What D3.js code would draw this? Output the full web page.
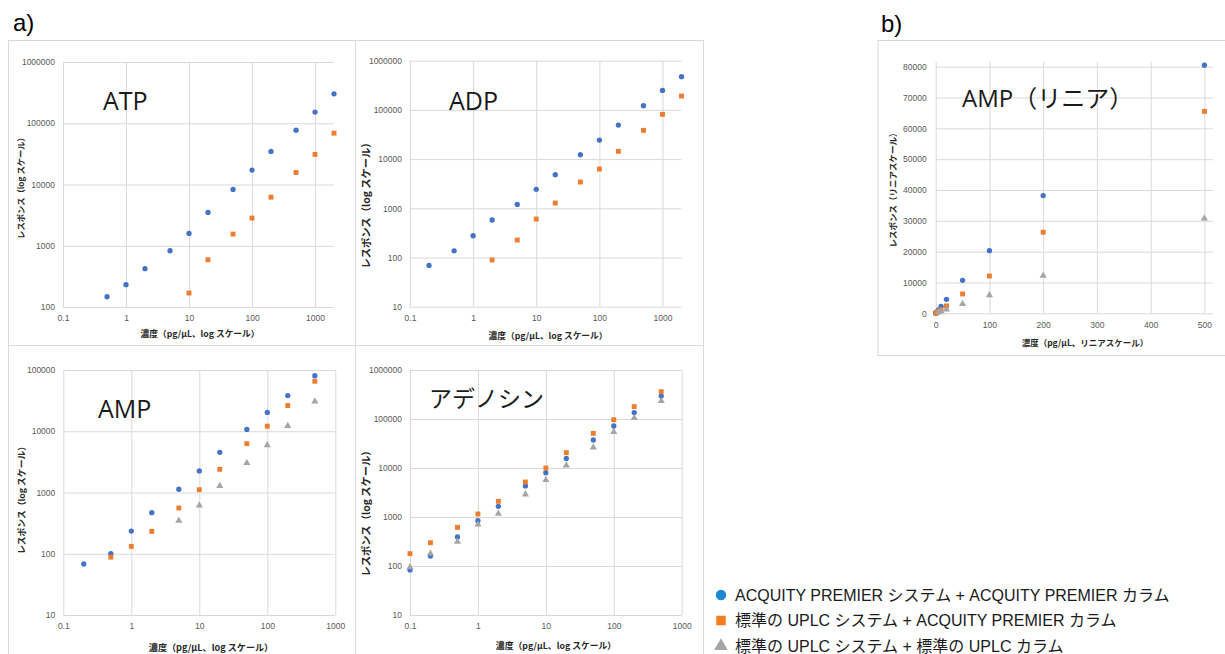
<!DOCTYPE html>
<html>
<head>
<meta charset="utf-8">
<script src="https://cdn.jsdelivr.net/npm/d3@7"></script>
<style>
  body { margin: 0; background: #fff; }
  .grid line { stroke: #d9d9d9; stroke-width: 1; }
  .grid text { fill: #595959; font-family: "Liberation Sans", Arial, sans-serif; font-size: 8.5px; }
  .axtitle { font-family: "Noto Sans CJK JP", sans-serif; font-weight: 700; fill: #262626; }
  .ptitle { font-family: "Open Sans", "Noto Sans CJK JP", sans-serif; fill: #1a1a1a; }
</style>
</head>
<body>
<div id="chart"></div>
<script>
// concentrations (pg/uL) and responses
var atpConc = [0.5, 1, 2, 5, 10, 20, 50, 100, 200, 500, 1000, 2000];
var atpPremier = [147, 231, 422, 828, 1590, 3500, 8300, 17200, 34700, 77000, 152000, 302000];
var atpConcStd = [10, 20, 50, 100, 200, 500, 1000, 2000];
var atpStdPremier = [169, 591, 1550, 2830, 6220, 15700, 31000, 68900];

var adpConc = [0.2, 0.5, 1, 2, 5, 10, 20, 50, 100, 200, 500, 1000, 2000];
var adpPremier = [69, 137, 277, 578, 1200, 2430, 4820, 12300, 24400, 49200, 122000, 249000, 473000];
var adpConcStd = [2, 5, 10, 20, 50, 100, 200, 500, 1000, 2000];
var adpStdPremier = [89, 226, 605, 1280, 3420, 6280, 14400, 38400, 81100, 191000];

var ampConc = [0.2, 0.5, 1, 2, 5, 10, 20, 50, 100, 200, 500];
var ampPremier = [68, 100, 235, 469, 1130, 2250, 4530, 10700, 20300, 38200, 80500];
var ampConcStd = [0.5, 1, 2, 5, 10, 20, 50, 100, 200, 500];
var ampStdPremier = [88, 132, 232, 558, 1110, 2390, 6270, 12100, 26300, 65500];
var ampConcStdStd = [5, 10, 20, 50, 100, 200, 500];
var ampStdStd = [347, 617, 1280, 3030, 5900, 12200, 30800];

var adoConc = [0.1, 0.2, 0.5, 1, 2, 5, 10, 20, 50, 100, 200, 500];
var adoPremier = [83, 160, 391, 841, 1650, 4300, 8030, 15700, 37300, 71900, 135000, 294000];
var adoStdPremier = [179, 299, 615, 1150, 2090, 5180, 10000, 20600, 50900, 96800, 179000, 361000];
var adoStdStd = [95, 179, 314, 708, 1170, 2900, 5690, 11300, 26400, 54300, 105000, 233000];

var linXTicks = [0, 100, 200, 300, 400, 500];
var linYTicks = [0, 10000, 20000, 30000, 40000, 50000, 60000, 70000, 80000];

var legendLabels = [
    "ACQUITY PREMIER システム + ACQUITY PREMIER カラム",
    "標準の UPLC システム + ACQUITY PREMIER カラム",
    "標準の UPLC システム + 標準の UPLC カラム"
];

var markerColor = ["#4472c4", "#ed7d31", "#a5a5a5"];
var legendColor = ["#1c87d3", "#f47b20", "#a5a5a5"];

var logXTitle = "濃度（pg/μL、log スケール）";
var logYTitle = "レスポンス（log スケール）";

var svg = d3.select("#chart").append("svg")
    .attr("width", 1225)
    .attr("height", 654);

svg.append("rect").attr("width", 1225).attr("height", 654).attr("fill", "#fff");

// chart frames
var frames = [[8, 40, 347, 305], [355, 40, 348, 305], [8, 345, 347, 320], [355, 345, 348, 320], [877.5, 40, 360, 315]];
svg.selectAll(".frame")
    .data(frames)
    .enter().append("rect")
    .attr("x", function(d) { return d[0] + 0.5; })
    .attr("y", function(d) { return d[1] + 0.5; })
    .attr("width", function(d) { return d[2]; })
    .attr("height", function(d) { return d[3]; })
    .attr("fill", "none")
    .attr("stroke", "#d9d9d9");

svg.append("text").attr("x", 13).attr("y", 31)
    .style("font-family", "Liberation Sans, Arial, sans-serif").style("font-size", "24px").text("a)");
svg.append("text").attr("x", 881).attr("y", 32)
    .style("font-family", "Liberation Sans, Arial, sans-serif").style("font-size", "24px").text("b)");

var panels = [
    { title: "ATP", left: 63, right: 334, top: 62, bottom: 307, log: true,
      xDomain: [0.1, 2000], yDomain: [100, 1e6],
      series: [[atpConc, atpPremier, 0], [atpConcStd, atpStdPremier, 1]],
      tx: 103, ty: 110, ts: 25, xt: [200, 333, 8.7], yt: [20, 186, 8.3], xTitle: logXTitle, yTitle: logYTitle },
    { title: "ADP", left: 410, right: 681.5, top: 60.7, bottom: 306.7, log: true,
      xDomain: [0.1, 2000], yDomain: [10, 1e6],
      series: [[adpConc, adpPremier, 0], [adpConcStd, adpStdPremier, 1]],
      tx: 449, ty: 110, ts: 25, xt: [548, 335, 8.7], yt: [365, 203, 10.3], xTitle: logXTitle, yTitle: logYTitle },
    { title: "AMP", left: 63.3, right: 335.3, top: 370, bottom: 615, log: true,
      xDomain: [0.1, 1000], yDomain: [10, 1e5],
      series: [[ampConc, ampPremier, 0], [ampConcStd, ampStdPremier, 1], [ampConcStdStd, ampStdStd, 2]],
      tx: 98, ty: 418, ts: 25, xt: [211, 646.5, 9.1], yt: [21, 498, 8.8], xTitle: logXTitle, yTitle: logYTitle },
    { title: "アデノシン", left: 410, right: 681.7, top: 370, bottom: 615, log: true,
      xDomain: [0.1, 1000], yDomain: [10, 1e6],
      series: [[adoConc, adoPremier, 0], [adoConc, adoStdPremier, 1], [adoConc, adoStdStd, 2]],
      tx: 429, ty: 407, ts: 23, xt: [556, 645, 8.8], yt: [365, 511, 10.3], xTitle: logXTitle, yTitle: logYTitle },
    { title: "AMP（リニア）", left: 935.7, right: 1213, top: 61.7, bottom: 313.3, log: false,
      xDomain: [0, 516], yDomain: [0, 81620],
      series: [[ampConc, ampPremier, 0], [ampConcStd, ampStdPremier, 1], [ampConcStdStd, ampStdStd, 2]],
      tx: 962, ty: 107, ts: 24, xt: [1085, 342, 8.5], yt: [892, 188, 8.5],
      xTitle: "濃度（pg/μL、リニアスケール）", yTitle: "レスポンス（リニアスケール）" }
];

function powers(domain) {
    var out = [];
    for (var e = -1; e <= 6; e++) {
        var v = Math.pow(10, e);
        if (v >= domain[0] * 0.999 && v <= domain[1] * 1.001) out.push(+v.toPrecision(1));
    }
    return out;
}

function fmt(d) { return d < 1 ? String(d) : d3.format("d")(d); }

var symCircle = d3.symbol().type(d3.symbolCircle).size(22);
var symSquare = d3.symbol().type(d3.symbolSquare).size(24);
var symTri = d3.symbol().type(d3.symbolTriangle).size(22);
var shapes = [symCircle, symSquare, symTri];

panels.forEach(function(p) {
    var x = (p.log ? d3.scaleLog() : d3.scaleLinear()).domain(p.xDomain).range([p.left, p.right]);
    var y = (p.log ? d3.scaleLog() : d3.scaleLinear()).domain(p.yDomain).range([p.bottom, p.top]);

    var xAxis = d3.axisBottom(x)
        .tickValues(p.log ? powers(p.xDomain) : linXTicks)
        .tickFormat(fmt)
        .tickSize(-(p.bottom - p.top))
        .tickPadding(p.log ? 8 : 9);

    var yAxis = d3.axisLeft(y)
        .tickValues(p.log ? powers(p.yDomain) : linYTicks)
        .tickFormat(fmt)
        .tickSize(-(p.right - p.left))
        .tickPadding(p.log ? 8 : 9);

    svg.append("g")
        .classed("grid", true)
        .attr("transform", "translate(0," + p.bottom + ")")
        .call(xAxis)
        .call(function(g) { g.select(".domain").remove(); });

    svg.append("g")
        .classed("grid", true)
        .attr("transform", "translate(" + p.left + ",0)")
        .call(yAxis)
        .call(function(g) { g.select(".domain").remove(); });

    svg.selectAll(".grid text").attr("fill", null);

    svg.append("text")
        .classed("ptitle", true)
        .attr("x", p.tx)
        .attr("y", p.ty)
        .style("font-size", p.ts + "px")
        .text(p.title);

    svg.append("text")
        .classed("axtitle", true)
        .attr("x", p.xt[0])
        .attr("y", p.xt[1])
        .attr("text-anchor", "middle")
        .attr("dominant-baseline", "central")
        .style("font-size", p.xt[2] + "px")
        .text(p.xTitle);

    svg.append("text")
        .classed("axtitle", true)
        .attr("transform", "translate(" + p.yt[0] + "," + p.yt[1] + ") rotate(-90)")
        .attr("text-anchor", "middle")
        .attr("dominant-baseline", "central")
        .style("font-size", p.yt[2] + "px")
        .text(p.yTitle);

    p.series.forEach(function(s) {
        var pts = s[0].map(function(c, i) { return [c, s[1][i]]; });
        svg.append("g").selectAll("path")
            .data(pts)
            .enter().append("path")
            .attr("d", shapes[s[2]])
            .attr("transform", function(d) { return "translate(" + x(d[0]) + "," + y(d[1]) + ")"; })
            .attr("fill", markerColor[s[2]]);
    });
});

// legend
var legendSym = [
    d3.symbol().type(d3.symbolCircle).size(85),
    d3.symbol().type(d3.symbolSquare).size(90),
    d3.symbol().type(d3.symbolTriangle).size(80)
];
var legend = svg.selectAll(".legend")
    .data(legendLabels)
    .enter().append("g")
    .classed("legend", true)
    .attr("transform", function(d, i) { return "translate(721," + (595 + i * 25.5) + ")"; });

legend.append("path")
    .attr("d", function(d, i) { return legendSym[i](); })
    .attr("fill", function(d, i) { return legendColor[i]; });

legend.append("text")
    .attr("x", 14)
    .attr("dominant-baseline", "central")
    .style("font-family", "Liberation Sans, Arial, 'Noto Sans CJK JP', sans-serif")
    .style("font-size", "16px")
    .style("fill", "#1a1a1a")
    .text(function(d) { return d; });
</script>
</body>
</html>
